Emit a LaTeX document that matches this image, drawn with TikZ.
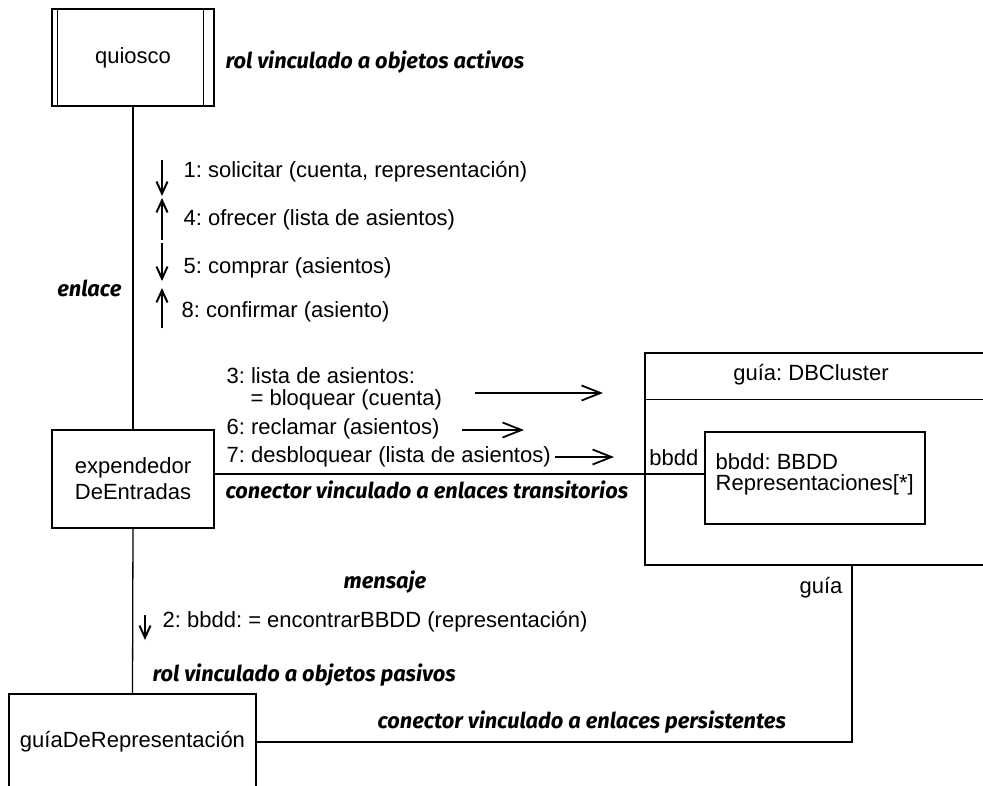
\documentclass[tikz,border=0pt]{standalone}
\usepackage{fontspec}
\setmainfont{Liberation Sans}
\newfontfamily\notefont{Fira Sans}
\usetikzlibrary{arrows.meta}
\frenchspacing

\begin{document}
\begin{tikzpicture}[x=1pt,y=-1pt,
  line width=1.3pt,
  every node/.style={font=\fontsize{22}{26}\selectfont, inner sep=0pt},
  box/.style={draw, rectangle, line width=1.3pt},
  note/.style={font=\notefont\bfseries\itshape\fontsize{21.8}{25}\selectfont, anchor=west},
  msg/.style={anchor=west},
  vtip/.style={-{Straight Barb[length=12pt,width=11pt,line width=2pt]}, line width=1.8pt},
  htip/.style={-{Straight Barb[length=19pt,width=15pt,line width=1.8pt]}, line width=1.4pt}]

\useasboundingbox (0,0) rectangle (983,785);

% active object: quiosco
\node[box, minimum width=162pt, minimum height=97pt] (quiosco) at (133,57.5) {quiosco};
\draw ([xshift=6pt]quiosco.north west) -- ([xshift=6pt]quiosco.south west);
\draw ([xshift=-11pt]quiosco.north east) -- ([xshift=-11pt]quiosco.south east);
\node[note] (activos) at (225,62) {rol vinculado a objetos activos};

% ticket seller
\node[box, minimum width=162pt, minimum height=98pt, align=center] (expendedor) at (133,479) {expendedor\\DeEntradas};

% database cluster with its part
\node[box, minimum width=345pt, minimum height=212pt] (cluster) at (817.5,459) {};
\node (clustertitle) at (811,375) {guía: DBCluster};
\draw ([yshift=-47pt]cluster.north west) -- ([yshift=-47pt]cluster.north east);
\node[box, minimum width=220pt, minimum height=92pt] (bbddbox) at (815,478) {};
\node[anchor=west, align=left, font=\fontsize{22}{21}\selectfont] (bbddtext) at (715,474) {bbdd: BBDD\\Representaciones[*]};
\node[anchor=east] (bbddport) at (699,458) {bbdd};
\node[anchor=east] (guialabel) at (843,588) {guía};
\coordinate (guiaport) at (852,565);

% performance guide
\node[box, minimum width=247pt, minimum height=96pt] (guiarep) at (132.5,742) {guíaDeRepresentación};

% connectors
\draw (quiosco.south) -- (expendedor.north);
\draw ([yshift=4pt]bbddbox.west) -- ([yshift=4pt]bbddbox.west -| expendedor.east);
\draw (expendedor.south) -- (guiarep.north);
\draw (guiarep.east) -| (guiaport);

% messages on the kiosk link
\node[msg] (m1) at (183,172) {1: solicitar (cuenta, representación)};
\draw[vtip] (162,160) -- (162,196);
\node[msg] (m4) at (183,220) {4: ofrecer (lista de asientos)};
\draw[vtip] (162,240) -- (162,198);
\node[msg] (m5) at (183,268) {5: comprar (asientos)};
\draw[vtip] (162,243) -- (162,281);
\node[msg] (m8) at (181,312) {8: confirmar (asiento)};
\draw[vtip] (162,328) -- (162,288);
\node[note, anchor=east] (enlace) at (122,288) {enlace};

% messages to the cluster
\node[msg, align=left, font=\fontsize{22}{22}\selectfont] (m3) at (226,389) {3: lista de asientos:\\\hspace{24pt}= bloquear (cuenta)};
\draw[htip] (475,393) -- (603,393);
\node[msg] (m6) at (226,429) {6: reclamar (asientos)};
\draw[htip] (462,430) -- (524,430);
\node[msg] (m7) at (226,457) {7: desbloquear (lista de asientos)};
\draw[htip] (555,457) -- (614,457);
\node[note] (transit) at (225,490) {conector vinculado a enlaces transitorios};

% message to the guide
\node[note] (mensaje) at (343,582) {mensaje};
\node[msg] (m2) at (162,622) {2: bbdd: = encontrarBBDD (representación)};
\draw[vtip] (145,615) -- (145,640);
\node[note] (pasivos) at (152,675) {rol vinculado a objetos pasivos};
\node[note] (persist) at (377,722) {conector vinculado a enlaces persistentes};
\end{tikzpicture}
\end{document}
